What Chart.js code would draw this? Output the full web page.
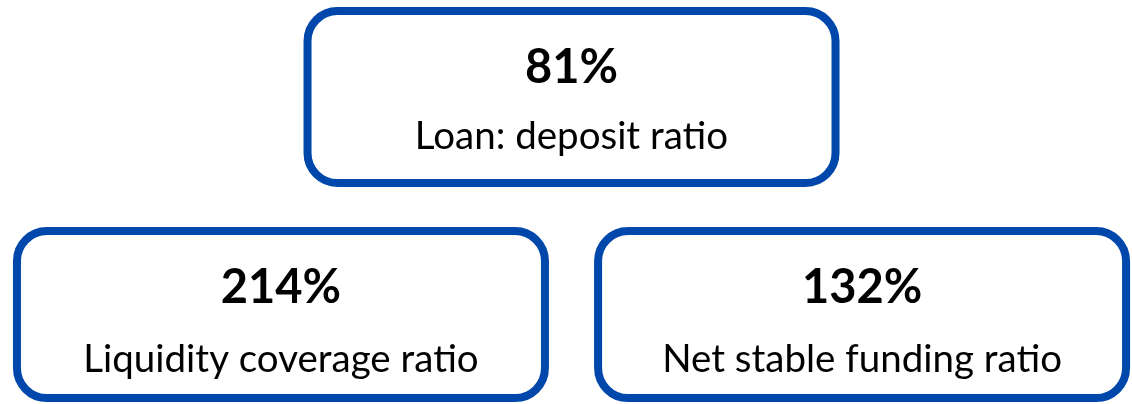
<!DOCTYPE html>
<html>
<head>
<meta charset="utf-8">
<script src="https://cdn.jsdelivr.net/npm/chart.js@4.4.1/dist/chart.umd.min.js"></script>
<style>
  html, body { margin: 0; padding: 0; background: #ffffff; }
  #wrap { width: 1132px; height: 404px; position: relative; }
</style>
</head>
<body>
<div id="wrap"><canvas id="kpi-chart"></canvas></div>
<script>
const metricLabels = ['Loan: deposit ratio', 'Liquidity coverage ratio', 'Net stable funding ratio'];
const metricValues = [81, 214, 132];
const metricColumns = [1, 0, 2];
const metricRows = [0, 1, 1];

const BOX_COLOR = '#0047ab';
const FONT_FAMILY = "Lato, 'Open Sans', sans-serif";

// per-row box size and text offsets (from box top)
const rowStyle = [
  { height: 172, valueBase: 72, labelBase: 138 },
  { height: 167, valueBase: 72, labelBase: 141 },
];

const kpiBoxes = {
  id: 'kpiBoxes',
  afterDatasetsDraw(chart) {
    const { ctx } = chart;
    const meta = chart.getDatasetMeta(0);
    meta.data.forEach((point, index) => {
      const style = rowStyle[metricRows[index]];
      const width = 528;
      const left = point.x - width / 2;
      const top = point.y - style.height / 2;

      ctx.save();
      ctx.lineWidth = 8;
      ctx.strokeStyle = BOX_COLOR;
      ctx.beginPath();
      ctx.roundRect(left, top, width, style.height, 30);
      ctx.stroke();

      ctx.fillStyle = '#000000';
      ctx.textAlign = 'center';
      ctx.textBaseline = 'alphabetic';
      ctx.font = `bold 47px ${FONT_FAMILY}`;
      ctx.fillText(`${metricValues[index]}%`, point.x, top + style.valueBase);
      ctx.font = `38.5px ${FONT_FAMILY}`;
      ctx.fillText(metricLabels[index], point.x, top + style.labelBase);
      ctx.restore();
    });
  },
};

new Chart(document.getElementById('kpi-chart'), {
  type: 'scatter',
  data: {
    datasets: [
      {
        label: 'KPI',
        data: metricColumns.map((col, index) => ({ x: col, y: metricRows[index] })),
        pointRadius: 0,
        pointHoverRadius: 0,
      },
    ],
  },
  options: {
    responsive: true,
    maintainAspectRatio: false,
    animation: false,
    layout: { padding: 0 },
    plugins: {
      legend: { display: false },
      tooltip: { enabled: false },
    },
    scales: {
      x: { type: 'linear', display: false, min: -0.967, max: 2.929 },
      y: { type: 'linear', display: false, reverse: true, min: -0.446, max: 1.411 },
    },
  },
  plugins: [kpiBoxes],
});
</script>
</body>
</html>
